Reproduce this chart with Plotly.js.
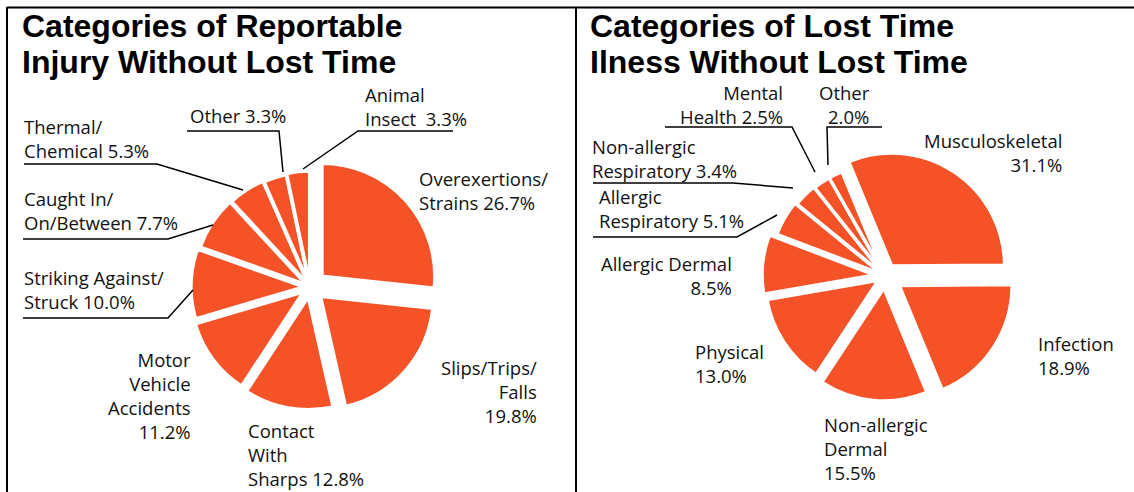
<!DOCTYPE html>
<html>
<head>
<meta charset="utf-8">
<script src="https://cdn.plot.ly/plotly-3.0.1.min.js"></script>
<style>
  html, body { margin: 0; padding: 0; background: #ffffff; }
  #chart { width: 1134px; height: 492px; }
</style>
</head>
<body>
<div id="chart"></div>
<script>
// ---------- DATA ----------
const injuryTitle = ["Categories of Reportable", "Injury Without Lost Time"];
const injuryCategories = ["Overexertions/<br>Strains", "Slips/Trips/<br>Falls", "Contact<br>With<br>Sharps",
  "Motor<br>Vehicle<br>Accidents", "Striking Against/<br>Struck", "Caught In/<br>On/Between",
  "Thermal/<br>Chemical", "Other", "Animal<br>Insect "];
const injuryValueSep = [" ", "<br>", " ", "<br>", " ", " ", " ", " ", " "];
const injuryValues = [26.7, 19.8, 12.8, 11.2, 10.0, 7.7, 5.3, 3.3, 3.3];

const illnessTitle = ["Categories of Lost Time", "Ilness Without Lost Time"];
const illnessCategories = ["Musculoskeletal", "Infection", "Non-allergic<br>Dermal", "Physical",
  "Allergic Dermal", "Allergic<br>Respiratory", "Non-allergic<br>Respiratory", "Mental<br>Health", "Other"];
const illnessValueSep = ["<br>", "<br>", "<br>", "<br>", "<br>", " ", " ", " ", "<br>"];
const illnessValues = [31.1, 18.9, 15.5, 13.0, 8.5, 5.1, 3.4, 2.5, 2.0];

// ---------- STYLE / LAYOUT ----------
const W = 1134, H = 492;
const px = x => x / W;
const py = y => 1 - y / H;
const sliceColor = "#F55327";
const labelFont = { family: "'Open Sans', Lato, sans-serif", size: 18.5, color: "#111111" };
const titleFont = { family: "'Liberation Sans', Arial, sans-serif", size: 32, color: "#000000" };

function pieDomain(cx, cy, r, maxPullPx) {
  const half = r + maxPullPx;
  return { x: [px(cx - half), px(cx + half)], y: [py(cy + half), py(cy - half)] };
}

// pie geometry (pixels)
const leftPie = { cx: 310, cy: 287, r: 113, pullPx: [16, 14, 10, 8, 6, 4, 3, 2, 3], rotation: 0 };
const rightPie = { cx: 885, cy: 276, r: 113, pullPx: [12, 17, 12, 8, 10, 3, 1, 0, 0], rotation: -22.4 };

function makePie(cats, vals, geo) {
  const maxPull = Math.max(...geo.pullPx);
  return {
    type: "pie",
    labels: cats.map(c => c.replace(/<br>/g, " ").trim()),
    values: vals,
    sort: false,
    direction: "clockwise",
    rotation: geo.rotation,
    pull: geo.pullPx.map(p => p / geo.r),
    textinfo: "none",
    hoverinfo: "label+percent",
    showlegend: false,
    marker: { colors: vals.map(() => sliceColor), line: { color: "#ffffff", width: 3.5 } },
    domain: pieDomain(geo.cx, geo.cy, geo.r, maxPull)
  };
}

const data = [
  makePie(injuryCategories, injuryValues, leftPie),
  makePie(illnessCategories, illnessValues, rightPie)
];

// label anchors: [x, yCenter, xanchor]
const leftLabelPos = [
  [417, 190, "left"], [539, 391, "right"], [246, 454, "left"], [193, 395, "right"],
  [22, 289, "left"], [22, 210.5, "left"], [22, 138, "left"], [188, 115, "left"], [363, 106, "left"]
];
const rightLabelPos = [
  [1064, 152.5, "right"], [1036, 355.5, "left"], [822, 448.5, "left"], [693, 363.5, "left"],
  [734, 275.5, "right"], [597, 208.5, "left"], [590, 158.5, "left"], [785, 104, "right"], [872, 104, "right"]
];

const annotations = [];
function addLabels(cats, vals, seps, pos) {
  cats.forEach((c, i) => {
    const p = pos[i];
    annotations.push({
      xref: "paper", yref: "paper", x: px(p[0]), y: py(p[1]),
      xanchor: p[2], yanchor: "middle", align: p[2], showarrow: false,
      text: c + seps[i] + vals[i].toFixed(1) + "%", font: labelFont
    });
  });
}
addLabels(injuryCategories, injuryValues, injuryValueSep, leftLabelPos);
addLabels(illnessCategories, illnessValues, illnessValueSep, rightLabelPos);

function addTitle(lines, x) {
  const ys = [26, 61.5];
  lines.forEach((t, i) => annotations.push({
    xref: "paper", yref: "paper", x: px(x), y: py(ys[i]), xanchor: "left", yanchor: "middle",
    showarrow: false, text: "<b>" + t + "</b>", font: titleFont
  }));
}
addTitle(injuryTitle, 20);
addTitle(illnessTitle, 588);

// leader lines (pixel polylines)
const leaders = [
  [[453, 131], [358, 131], [303, 169]],
  [[187, 131], [279, 131], [283, 172]],
  [[24, 164], [157, 164], [243, 190]],
  [[23, 239], [168, 239], [213, 225]],
  [[23, 318], [168, 318], [193, 290]],
  [[665, 127], [792, 127], [815, 172]],
  [[882, 127], [827, 127], [828, 165]],
  [[593, 183], [733, 183], [793, 188]],
  [[593, 237], [737, 237], [777, 215]]
];
const shapes = leaders.map(pts => ({
  type: "path", xref: "paper", yref: "paper",
  path: pts.map((p, i) => (i ? "L" : "M") + px(p[0]) + "," + py(p[1])).join(" "),
  line: { color: "#000000", width: 1.5 }
}));
// frame lines
[[[7, 7.5], [1134, 7.5]], [[7, 7], [7, 492]], [[576, 7], [576, 492]]].forEach(l => shapes.push({
  type: "line", xref: "paper", yref: "paper",
  x0: px(l[0][0]), y0: py(l[0][1]), x1: px(l[1][0]), y1: py(l[1][1]),
  line: { color: "#000000", width: 2 }
}));

const layout = {
  width: W, height: H,
  margin: { l: 0, r: 0, t: 0, b: 0 },
  paper_bgcolor: "#ffffff",
  plot_bgcolor: "#ffffff",
  showlegend: false,
  annotations: annotations,
  shapes: shapes
};

Plotly.newPlot("chart", data, layout, { displayModeBar: false, staticPlot: true });
</script>
</body>
</html>
